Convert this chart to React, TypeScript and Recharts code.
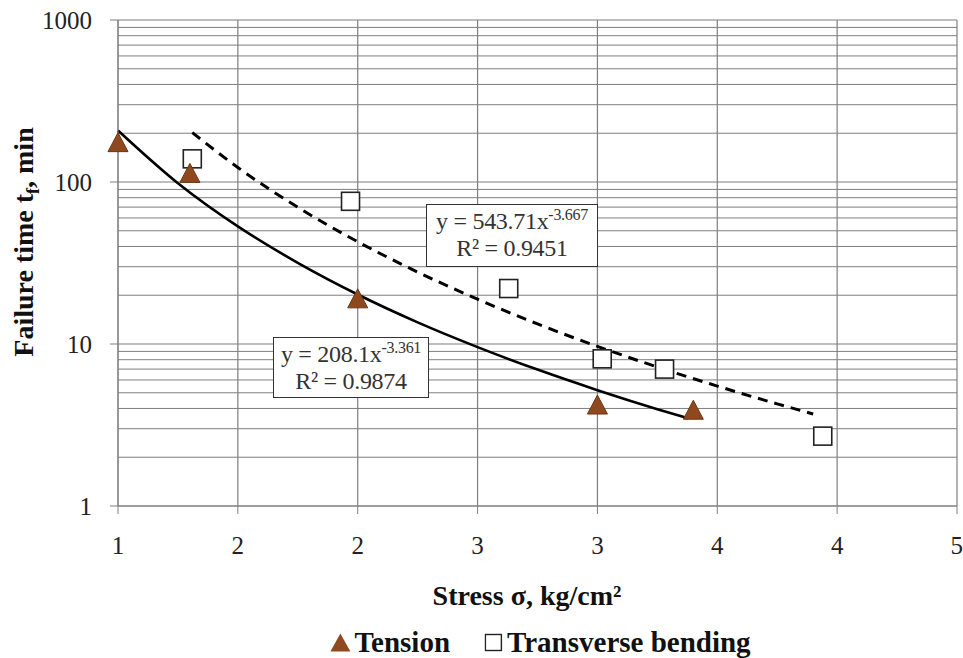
import { ComposedChart, Line, Scatter, XAxis, YAxis, CartesianGrid, ReferenceLine } from 'recharts';

// measured points
const tensionX = [1.0, 1.3, 2.0, 3.0, 3.4];
const tensionY = [175, 113, 19, 4.2, 3.9];
const bendingX = [1.31, 1.97, 2.63, 3.02, 3.28, 3.94];
const bendingY = [139, 76, 22, 8.1, 7.0, 2.7];

// power trend lines
const tensionFitX = [1, 1.25, 1.5, 1.75, 2, 2.25, 2.5, 2.75, 3, 3.25, 3.38];
const tensionFitY = [208, 98.3, 53.2, 31.7, 20.2, 13.6, 9.57, 6.95, 5.19, 3.96, 3.47];
const bendingFitX = [1.31, 1.5, 1.75, 2, 2.25, 2.5, 2.75, 3, 3.25, 3.5, 3.75, 3.9];
const bendingFitY = [202, 122.9, 69.8, 42.8, 27.8, 18.9, 13.3, 9.67, 7.21, 5.5, 4.27, 3.7];

const xTicks = [1, 1.5, 2, 2.5, 3, 3.5, 4, 4.5];
const yTicks = [1, 10, 100, 1000];
const yMinor = [2, 3, 4, 5, 6, 7, 8, 9, 20, 30, 40, 50, 60, 70, 80, 90, 200, 300, 400, 500, 600, 700, 800, 900];

const zip = (xs: number[], ys: number[]) => xs.map((x, i) => ({ x, y: ys[i] }));
const tension = zip(tensionX, tensionY);
const bending = zip(bendingX, bendingY);
const tensionFit = zip(tensionFitX, tensionFitY);
const bendingFit = zip(bendingFitX, bendingFitY);

const serif = '"Liberation Serif", "Times New Roman", serif';
const gridColor = '#7f7f7f';
const brown = '#8e4a1e';

const Triangle = ({ cx, cy }: any) => (
    <polygon
        points={`${cx},${cy - 10} ${cx - 10},${cy + 9} ${cx + 10},${cy + 9}`}
        fill={brown}
        stroke="#6e3512"
        strokeWidth={1}
    />
);

const Square = ({ cx, cy }: any) => (
    <rect x={cx - 9} y={cy - 9} width={18} height={18} fill="#fff" stroke="#222" strokeWidth={1.6} />
);

const eqBox = (left: number, top: number, w: number, h: number, coef: string, exp: string, r2: string) => (
    <div
        style={{
            position: 'absolute',
            left,
            top,
            width: w,
            height: h,
            boxSizing: 'border-box',
            border: '1.6px solid #333',
            background: '#fff',
            fontFamily: serif,
            fontSize: 24,
            color: '#333',
            textAlign: 'center',
            lineHeight: '27px',
            paddingTop: 3,
            whiteSpace: 'nowrap',
            letterSpacing: -0.3,
        }}
    >
        <div>
            y = {coef}x<sup style={{ fontSize: 16, verticalAlign: 9, lineHeight: 0 }}>{exp}</sup>
        </div>
        <div>R² = {r2}</div>
    </div>
);

export default function App() {
    const tickStyle = { fontSize: 25, fill: '#222', fontFamily: serif };
    return (
        <div style={{ position: 'absolute', left: 0, top: 0, width: 963, height: 658, background: '#fff' }}>
            <ComposedChart width={963} height={658} margin={{ top: 20, right: 6, bottom: 122, left: 58 }}>
                <CartesianGrid stroke={gridColor} strokeWidth={1.2} />
                {yMinor.map((v) => (
                    <ReferenceLine key={v} y={v} stroke={gridColor} strokeWidth={1} />
                ))}
                <XAxis
                    dataKey="x"
                    type="number"
                    domain={[1, 4.5]}
                    ticks={xTicks}
                    tickFormatter={(v: number) => String(Math.round(v))}
                    tick={tickStyle}
                    stroke={gridColor}
                    tickSize={8}
                    tickMargin={22}
                    height={30}
                />
                <YAxis
                    dataKey="y"
                    type="number"
                    scale="log"
                    domain={[1, 1000]}
                    ticks={yTicks}
                    tick={tickStyle}
                    stroke={gridColor}
                    tickSize={8}
                    tickMargin={18}
                    width={60}
                />
                <Line data={tensionFit} dataKey="y" type="monotone" stroke="#000" strokeWidth={2.6} dot={false} isAnimationActive={false} />
                <Line data={bendingFit} dataKey="y" type="monotone" stroke="#000" strokeWidth={3} strokeDasharray="10 7" dot={false} isAnimationActive={false} />
                <Scatter data={bending} dataKey="y" shape={<Square />} isAnimationActive={false} />
                <Scatter data={tension} dataKey="y" shape={<Triangle />} isAnimationActive={false} />
            </ComposedChart>

            {eqBox(426, 204, 172, 63, '543.71', '-3.667', '0.9451')}
            {eqBox(273, 337, 156, 61, '208.1', '-3.361', '0.9874')}

            <div
                style={{
                    position: 'absolute',
                    left: 26,
                    top: 242,
                    transform: 'translate(-50%, -50%) rotate(-90deg)',
                    whiteSpace: 'nowrap',
                    fontFamily: serif,
                    fontWeight: 'bold',
                    fontSize: 28,
                    color: '#111',
                }}
            >
                Failure time t<sub style={{ fontSize: 18 }}>f</sub>, min
            </div>
            <div
                style={{
                    position: 'absolute',
                    left: 527,
                    top: 596,
                    transform: 'translate(-50%, -50%)',
                    whiteSpace: 'nowrap',
                    fontFamily: serif,
                    fontWeight: 'bold',
                    fontSize: 28,
                    color: '#111',
                }}
            >
                Stress σ, kg/cm²
            </div>
            <div
                style={{
                    position: 'absolute',
                    left: 540,
                    top: 642,
                    transform: 'translate(-50%, -50%)',
                    whiteSpace: 'nowrap',
                    fontFamily: serif,
                    fontWeight: 'bold',
                    fontSize: 29,
                    color: '#111',
                    display: 'flex',
                    alignItems: 'center',
                }}
            >
                <svg width={22} height={20} style={{ marginRight: 3 }}>
                    <polygon points="11,1 1,19 21,19" fill={brown} />
                </svg>
                <span>Tension</span>
                <svg width={20} height={20} style={{ marginLeft: 34, marginRight: 3 }}>
                    <rect x={1} y={2} width={16} height={16} fill="#fff" stroke="#222" strokeWidth={1.4} />
                </svg>
                <span>Transverse bending</span>
            </div>
        </div>
    );
}
